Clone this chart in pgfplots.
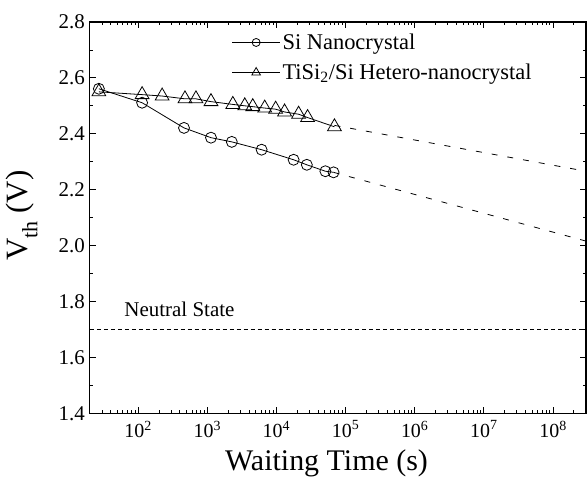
\documentclass[border=0pt]{standalone}
\usepackage{pgfplots}
\pgfplotsset{compat=1.18}
\usepackage{fontspec}
\setmainfont{Liberation Serif}
\begin{document}
\begin{tikzpicture}[x=1pt,y=1pt]
\path[use as bounding box] (-90,-64) rectangle (498,414);
\begin{axis}[
  at={(0pt,0pt)}, anchor=south west,
  scale only axis, width=497pt, height=392pt,
  xmode=log, xmin=20, xmax=3e8,
  ymin=1.4, ymax=2.8,
  xtick={1e2,1e3,1e4,1e5,1e6,1e7,1e8},
  xticklabels={10\textsuperscript{2},10\textsuperscript{3},10\textsuperscript{4},10\textsuperscript{5},10\textsuperscript{6},10\textsuperscript{7},10\textsuperscript{8}},
  minor xtick={30,40,50,60,70,80,90,200,300,400,500,600,700,800,900,2000,3000,4000,5000,6000,7000,8000,9000,2e4,3e4,4e4,5e4,6e4,7e4,8e4,9e4,2e5,3e5,4e5,5e5,6e5,7e5,8e5,9e5,2e6,3e6,4e6,5e6,6e6,7e6,8e6,9e6,2e7,3e7,4e7,5e7,6e7,7e7,8e7,9e7,2e8,3e8},
  ytick={1.4,1.6,1.8,2.0,2.2,2.4,2.6,2.8},
  yticklabels={1.4,1.6,1.8,2.0,2.2,2.4,2.6,2.8},
  minor ytick={1.5,1.7,1.9,2.1,2.3,2.5,2.7},
  tick align=inside,
  major tick length=6pt, minor tick length=3pt,
  axis line style={line width=1.3pt},
  every tick/.style={black, line width=0.8pt},
  yticklabel style={font=\fontsize{21pt}{21pt}\selectfont, xshift=-1.5pt},
  xticklabel style={font=\fontsize{20pt}{20pt}\selectfont, yshift=-4pt},
  xlabel={Waiting Time (s)},
  xlabel style={at={(axis description cs:0.477,0)}, anchor=base, yshift=-57pt, font=\fontsize{30pt}{30pt}\selectfont},
  ylabel={V\raisebox{-0.3em}{\fontsize{22pt}{22pt}\selectfont th} (V)},
  ylabel style={at={(axis description cs:-0.1247,0.505)}, anchor=base, font=\fontsize{31pt}{31pt}\selectfont},
  legend style={at={(axis description cs:0.2857,0.975)}, anchor=north west, draw=none, fill=none,
    font=\fontsize{22.5pt}{22.5pt}\selectfont, inner xsep=0pt, inner ysep=0pt, row sep=9pt,
    cells={anchor=west}},
]
\addplot[black, line width=0.8pt, mark=o, mark size=5.5pt, mark options={fill=white, line width=0.8pt},
  legend image code/.code={\draw[black, line width=0.8pt, mark=o, mark size=4pt, mark options={fill=white}, mark repeat=2, mark phase=2] plot coordinates {(0pt,0pt)(24pt,0pt)(48pt,0pt)};}]
coordinates {(27,2.561)(114,2.511)(460,2.421)(1130,2.386)(2260,2.371)(6100,2.343)(17700,2.307)(27500,2.289)(51000,2.266)(67000,2.262)};
\addlegendentry{Si Nanocrystal}
\addplot[black, line width=0.8pt, mark=triangle, mark size=8pt, mark options={fill=white, line width=0.8pt},
  legend image code/.code={\draw[black, line width=0.8pt, mark=triangle, mark size=5pt, mark options={fill=white}, mark repeat=2, mark phase=2] plot coordinates {(0pt,0pt)(24pt,0pt)(48pt,0pt)};}]
coordinates {(27,2.550)(114,2.540)(222,2.535)(475,2.525)(685,2.525)(1130,2.515)(2340,2.505)(3480,2.500)(4540,2.497)(6760,2.492)(9730,2.488)(13100,2.478)(20900,2.470)(28200,2.458)(69000,2.425)};
\addlegendentry{TiSi\textsubscript{2}/Si Hetero-nanocrystal}
\addplot[black, line width=0.8pt, dash pattern=on 6pt off 10pt, forget plot] coordinates {(67000,2.262)(3e8,2.016)};
\addplot[black, line width=0.8pt, dash pattern=on 6pt off 10pt, forget plot] coordinates {(69000,2.430)(3e8,2.266)};
\addplot[black, line width=1pt, dash pattern=on 4pt off 3pt, forget plot] coordinates {(20,1.7)(3e8,1.7)};
\node[anchor=base west, inner sep=0pt, font=\fontsize{21pt}{21pt}\selectfont] at (axis cs:62.8,1.747) {Neutral State};
\end{axis}
\end{tikzpicture}
\end{document}
